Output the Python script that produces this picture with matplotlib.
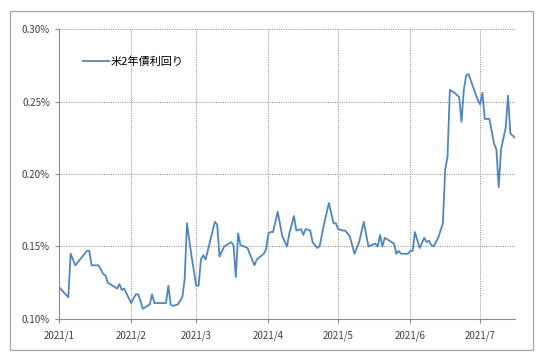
import matplotlib

matplotlib.use("Agg")
import matplotlib.dates as mdates
import matplotlib.pyplot as plt
import numpy as np
import pandas as pd
from matplotlib.patches import Rectangle
from matplotlib.ticker import FuncFormatter, MultipleLocator

plt.rcParams["font.family"] = ["Noto Sans CJK JP", "DejaVu Sans"]

# 米2年債利回り (%)
dates = [
    "2021-01-01", "2021-01-05", "2021-01-06", "2021-01-08", "2021-01-13", "2021-01-14",
    "2021-01-15", "2021-01-18", "2021-01-20", "2021-01-21", "2021-01-22", "2021-01-25",
    "2021-01-26", "2021-01-27", "2021-01-28", "2021-01-29", "2021-02-01", "2021-02-03",
    "2021-02-04", "2021-02-05", "2021-02-06", "2021-02-08", "2021-02-09", "2021-02-10",
    "2021-02-11", "2021-02-16", "2021-02-17", "2021-02-18", "2021-02-19", "2021-02-21",
    "2021-02-23", "2021-02-24", "2021-02-25", "2021-02-27", "2021-03-01", "2021-03-02",
    "2021-03-03", "2021-03-04", "2021-03-05", "2021-03-09", "2021-03-10", "2021-03-11",
    "2021-03-13", "2021-03-16", "2021-03-17", "2021-03-18", "2021-03-19", "2021-03-20",
    "2021-03-23", "2021-03-24", "2021-03-26", "2021-03-27", "2021-03-30", "2021-03-31",
    "2021-04-01", "2021-04-02", "2021-04-03", "2021-04-05", "2021-04-07", "2021-04-09",
    "2021-04-10", "2021-04-12", "2021-04-13", "2021-04-15", "2021-04-16", "2021-04-17",
    "2021-04-19", "2021-04-20", "2021-04-22", "2021-04-23", "2021-04-25", "2021-04-27",
    "2021-04-29", "2021-04-30", "2021-05-01", "2021-05-03", "2021-05-04", "2021-05-05",
    "2021-05-06", "2021-05-08", "2021-05-10", "2021-05-12", "2021-05-14", "2021-05-17",
    "2021-05-18", "2021-05-19", "2021-05-20", "2021-05-21", "2021-05-23", "2021-05-25",
    "2021-05-26", "2021-05-27", "2021-05-28", "2021-05-31", "2021-06-01", "2021-06-02",
    "2021-06-03", "2021-06-05", "2021-06-07", "2021-06-08", "2021-06-09", "2021-06-10",
    "2021-06-11", "2021-06-13", "2021-06-15", "2021-06-16", "2021-06-17", "2021-06-18",
    "2021-06-20", "2021-06-22", "2021-06-23", "2021-06-24", "2021-06-25", "2021-06-26",
    "2021-06-28", "2021-06-30", "2021-07-01", "2021-07-02", "2021-07-03", "2021-07-05",
    "2021-07-07", "2021-07-08", "2021-07-09", "2021-07-10", "2021-07-12", "2021-07-13",
    "2021-07-14", "2021-07-16",
]
yields = [
    0.122, 0.115, 0.145, 0.137, 0.147, 0.147,
    0.137, 0.137, 0.131, 0.130, 0.125, 0.122,
    0.121, 0.124, 0.120, 0.121, 0.111, 0.117,
    0.117, 0.113, 0.107, 0.109, 0.110, 0.117,
    0.111, 0.111, 0.123, 0.110, 0.109, 0.110,
    0.115, 0.127, 0.166, 0.143, 0.123, 0.123,
    0.141, 0.144, 0.141, 0.167, 0.165, 0.143,
    0.150, 0.153, 0.151, 0.129, 0.159, 0.151,
    0.149, 0.145, 0.137, 0.141, 0.145, 0.148,
    0.159, 0.160, 0.160, 0.174, 0.157, 0.150,
    0.159, 0.171, 0.161, 0.162, 0.158, 0.162,
    0.161, 0.153, 0.149, 0.150, 0.166, 0.180,
    0.166, 0.166, 0.162, 0.161, 0.161, 0.159,
    0.157, 0.145, 0.153, 0.167, 0.150, 0.152,
    0.150, 0.158, 0.150, 0.156, 0.154, 0.152,
    0.145, 0.147, 0.145, 0.145, 0.147, 0.147,
    0.160, 0.149, 0.156, 0.153, 0.154, 0.151,
    0.150, 0.156, 0.166, 0.203, 0.212, 0.258,
    0.256, 0.253, 0.236, 0.258, 0.268, 0.269,
    0.260, 0.251, 0.248, 0.256, 0.238, 0.238,
    0.221, 0.217, 0.191, 0.217, 0.232, 0.254,
    0.228, 0.225,
]
series_label = "米2年債利回り"
x_start = "2021-01-01"
x_end = "2021-07-16"

x = pd.to_datetime(dates)
y = np.asarray(yields)

fig = plt.figure(figsize=(5.4, 3.62), dpi=100)
ax = fig.add_axes([59 / 540, 1 - 319 / 362, 456 / 540, 290 / 362])

# outer chart border like the spreadsheet frame
fig.patches.append(
    Rectangle((10 / 540, 1 - 350 / 362), 523 / 540, 339 / 362, transform=fig.transFigure,
              fill=False, edgecolor="#a6a6a6", linewidth=0.9)
)

ax.plot(x, y, color="#4f86c2", linewidth=1.3, label=series_label)

ax.set_xlim(pd.Timestamp(x_start), pd.Timestamp(x_end))
ax.set_ylim(0.10, 0.30)
ax.yaxis.set_major_locator(MultipleLocator(0.05))
ax.yaxis.set_major_formatter(FuncFormatter(lambda v, _: f"{v:.2f}%"))
ax.xaxis.set_major_locator(mdates.MonthLocator())
ax.xaxis.set_major_formatter(FuncFormatter(lambda v, _: f"{mdates.num2date(v).year}/{mdates.num2date(v).month}"))

ax.grid(True, color="#9a9a9a", linestyle=(0, (1.2, 1.2)), linewidth=0.7)
ax.set_axisbelow(True)
for side in ("top", "right"):
    ax.spines[side].set_visible(False)
for side in ("left", "bottom"):
    ax.spines[side].set_color("#8c8c8c")
    ax.spines[side].set_linewidth(0.8)
ax.tick_params(axis="both", colors="#8c8c8c", labelcolor="#404040", labelsize=7, length=3, width=0.8)
ax.tick_params(axis="x", pad=5)

ax.legend(loc="upper left", bbox_to_anchor=(0.042, 0.92), frameon=False, fontsize=8,
          handlelength=2.4, handletextpad=0.1, borderaxespad=0.0)

fig.savefig("out.png", dpi=100)
